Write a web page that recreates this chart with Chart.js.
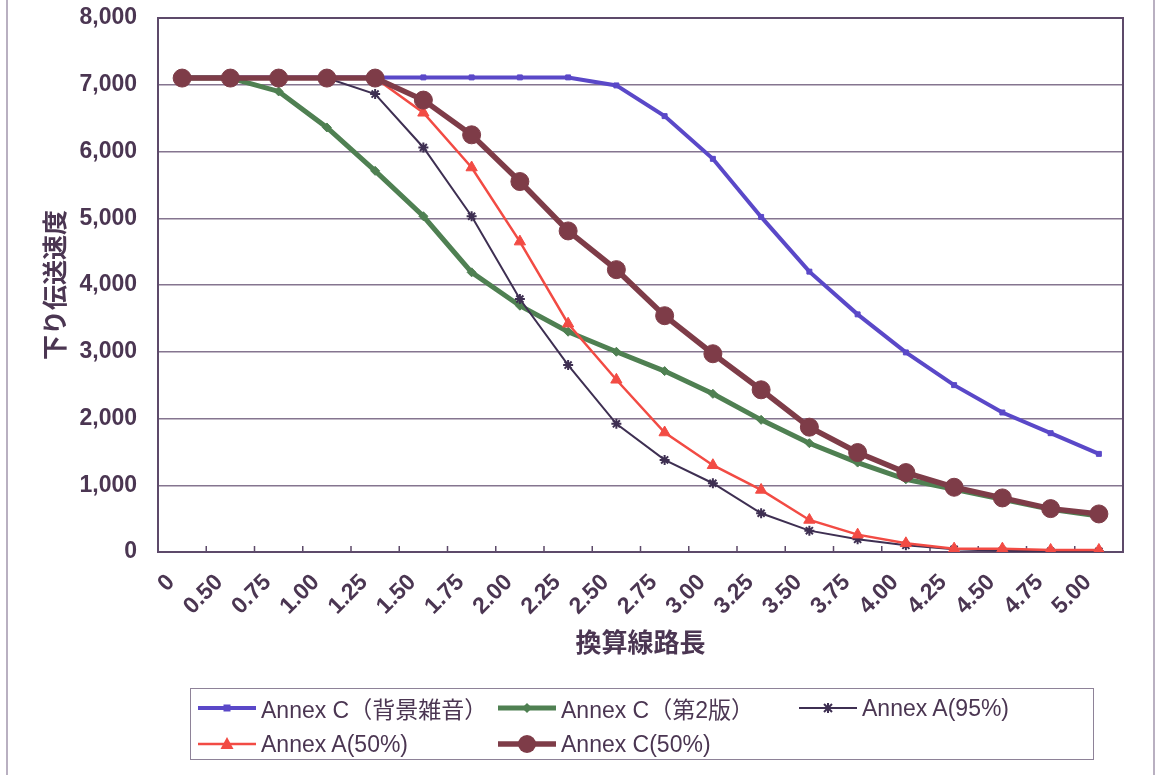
<!DOCTYPE html>
<html><head><meta charset="utf-8">
<script src="https://cdn.jsdelivr.net/npm/chart.js@4.4.1/dist/chart.umd.min.js"></script>
<style>
html,body{margin:0;padding:0;background:#fff;}
#wrap{position:relative;width:1156px;height:775px;overflow:hidden;background:#fff;}
canvas{position:absolute;left:0;top:0;}
#legend{position:absolute;left:190px;top:688px;width:904px;height:72px;border:1px solid #8e8298;box-sizing:border-box;font:23px "Liberation Sans","Noto Sans CJK JP",sans-serif;color:#4b3652;}
.item{position:absolute;display:flex;align-items:center;height:30px;white-space:nowrap;}
.item svg{margin-right:5px;}
</style></head>
<body><div id="wrap"><canvas id="c" width="1156" height="775"></canvas><div id="legend"></div></div>
<script>
const categories = ['0','0.50','0.75','1.00','1.25','1.50','1.75','2.00','2.25','2.50','2.75','3.00','3.25','3.50','3.75','4.00','4.25','4.50','4.75','5.00'];
const yTickLabels = ['0','1,000','2,000','3,000','4,000','5,000','6,000','7,000','8,000'];
const seriesNames = ['Annex C（背景雑音）','Annex C（第2版）','Annex A(95%)','Annex A(50%)','Annex C(50%)'];
const annexCNoise = [7110,7110,7110,7110,7110,7110,7110,7110,7110,6990,6530,5890,5020,4200,3560,2990,2500,2090,1780,1470];
const annexC2 = [7100,7100,6900,6360,5710,5030,4190,3690,3300,3000,2710,2370,1980,1630,1340,1090,940,790,640,540];
const annexA95 = [7100,7100,7100,7100,6860,6060,5030,3790,2800,1920,1380,1030,580,320,190,100,40,20,10,10];
const annexA50 = [7100,7100,7100,7100,7100,6580,5760,4650,3420,2580,1790,1300,930,480,260,130,50,50,30,30];
const annexC50 = [7100,7100,7100,7100,7100,6770,6250,5550,4810,4230,3540,2970,2430,1870,1490,1190,970,810,650,570];

const TXT = '#4b3652';
const FONT = '"Liberation Sans","Noto Sans CJK JP",sans-serif';

const styles = [
  {color:'#5a48c8', width:4, style:'rect', r:3.5, legendX:7, legendRow:0, order:4},
  {color:'#4f8052', width:5, style:'rectRot', r:4.5, legendX:307, legendRow:0, order:3},
  {color:'#3e2f52', width:2, style:'star', r:5, legendX:608, legendRow:0, order:2},
  {color:'#f24b44', width:2.5, style:'triangle', r:6.5, legendX:7, legendRow:1, order:1},
  {color:'#7e3c48', width:5.5, style:'circle', r:9, legendX:307, legendRow:1, order:0}
];
const seriesData = [annexCNoise, annexC2, annexA95, annexA50, annexC50];

const datasets = seriesData.map((d,i)=>({
  label: seriesNames[i], data: d,
  borderColor: styles[i].color, backgroundColor: styles[i].color,
  borderWidth: styles[i].width, pointStyle: styles[i].style, pointRadius: styles[i].r,
  pointBackgroundColor: styles[i].color, pointBorderColor: styles[i].color,
  pointBorderWidth: styles[i].style==='star'?2:1, tension:0, order: styles[i].order
}));

const framePlugin = {
  id:'frame',
  beforeDraw(chart){
    const c = chart.ctx;
    c.save();
    c.fillStyle='#fff'; c.fillRect(0,0,chart.width,chart.height);
    c.strokeStyle='#a397ad'; c.lineWidth=1.5;
    c.beginPath(); c.moveTo(7,0); c.lineTo(7,775); c.moveTo(1154,0); c.lineTo(1154,775); c.stroke();
    c.restore();
  },
  beforeDatasetsDraw(chart){
    const c = chart.ctx, a = chart.chartArea, xs = chart.scales.x;
    c.save();
    c.strokeStyle='#5d4a6a'; c.lineWidth=2;
    c.strokeRect(a.left, a.top, a.right-a.left, a.bottom-a.top);
    c.lineWidth=1.5;
    c.beginPath();
    for(let k=1;k<categories.length;k++){
      const x = (xs.getPixelForValue(k-1)+xs.getPixelForValue(k))/2;
      c.moveTo(x, a.bottom); c.lineTo(x, a.bottom-6);
    }
    c.stroke();
    c.restore();
  }
};

new Chart(document.getElementById('c'), {
  type:'line',
  data:{labels:categories, datasets},
  options:{
    responsive:false, animation:false,
    layout:{padding:{left:0,right:33,top:18,bottom:115}},
    plugins:{legend:{display:false}, tooltip:{enabled:false}},
    scales:{
      x:{
        type:'category', offset:true,
        grid:{display:false, drawTicks:false},
        border:{display:true,color:'#5d4a6a',width:2},
        ticks:{autoSkip:false,maxRotation:45,minRotation:45,padding:17,labelOffset:-11,color:TXT,font:{family:FONT,size:23,weight:'bold'}},
        title:{display:true,text:'換算線路長',color:TXT,font:{family:FONT,size:26,weight:'bold'},padding:{top:0,bottom:0}},
        afterFit(s){ s.height = 108; s.paddingTop = 0; }
      },
      y:{
        min:0,max:8000,
        ticks:{stepSize:1000,padding:21,color:TXT,font:{family:FONT,size:23,weight:'bold'},
          callback:(v,i)=>yTickLabels[i]},
        grid:{color:'#85758f',lineWidth:1.5,drawTicks:false},
        border:{display:true,color:'#5d4a6a',width:2},
        title:{display:true,text:'下り伝送速度',color:TXT,font:{family:FONT,size:25,weight:'bold'},padding:{top:42,bottom:0}},
        afterFit(s){ s.width = 158; s.paddingTop = 0; s.paddingBottom = 0; }
      }
    }
  },
  plugins:[framePlugin]
});

function markerSVG(st){
  const cx=29, cy=15, col=st.color;
  let m='';
  if(st.style==='rect') m=`<rect x="${cx-3.5}" y="${cy-3.5}" width="7" height="7" fill="${col}"/>`;
  else if(st.style==='rectRot') m=`<polygon points="${cx},${cy-5} ${cx+5},${cy} ${cx},${cy+5} ${cx-5},${cy}" fill="${col}"/>`;
  else if(st.style==='star') m=`<path d="M${cx-4} ${cy-4}L${cx+4} ${cy+4}M${cx+4} ${cy-4}L${cx-4} ${cy+4}M${cx} ${cy-5}L${cx} ${cy+5}" stroke="${col}" stroke-width="2"/>`;
  else if(st.style==='triangle') m=`<polygon points="${cx},${cy-7} ${cx+6.5},${cy+5} ${cx-6.5},${cy+5}" fill="${col}"/>`;
  else m=`<circle cx="${cx}" cy="${cy}" r="9" fill="${col}"/>`;
  return `<svg width="58" height="30"><line x1="0" y1="${cy}" x2="58" y2="${cy}" stroke="${col}" stroke-width="${st.width}"/>${m}</svg>`;
}
const lg = document.getElementById('legend');
seriesNames.forEach((n,i)=>{
  const st = styles[i];
  const d = document.createElement('div');
  d.className='item';
  d.style.left = st.legendX+'px';
  d.style.top = (st.legendRow===0?4:40)+'px';
  d.innerHTML = markerSVG(st)+'<span>'+n+'</span>';
  lg.appendChild(d);
});
</script>
</body></html>
